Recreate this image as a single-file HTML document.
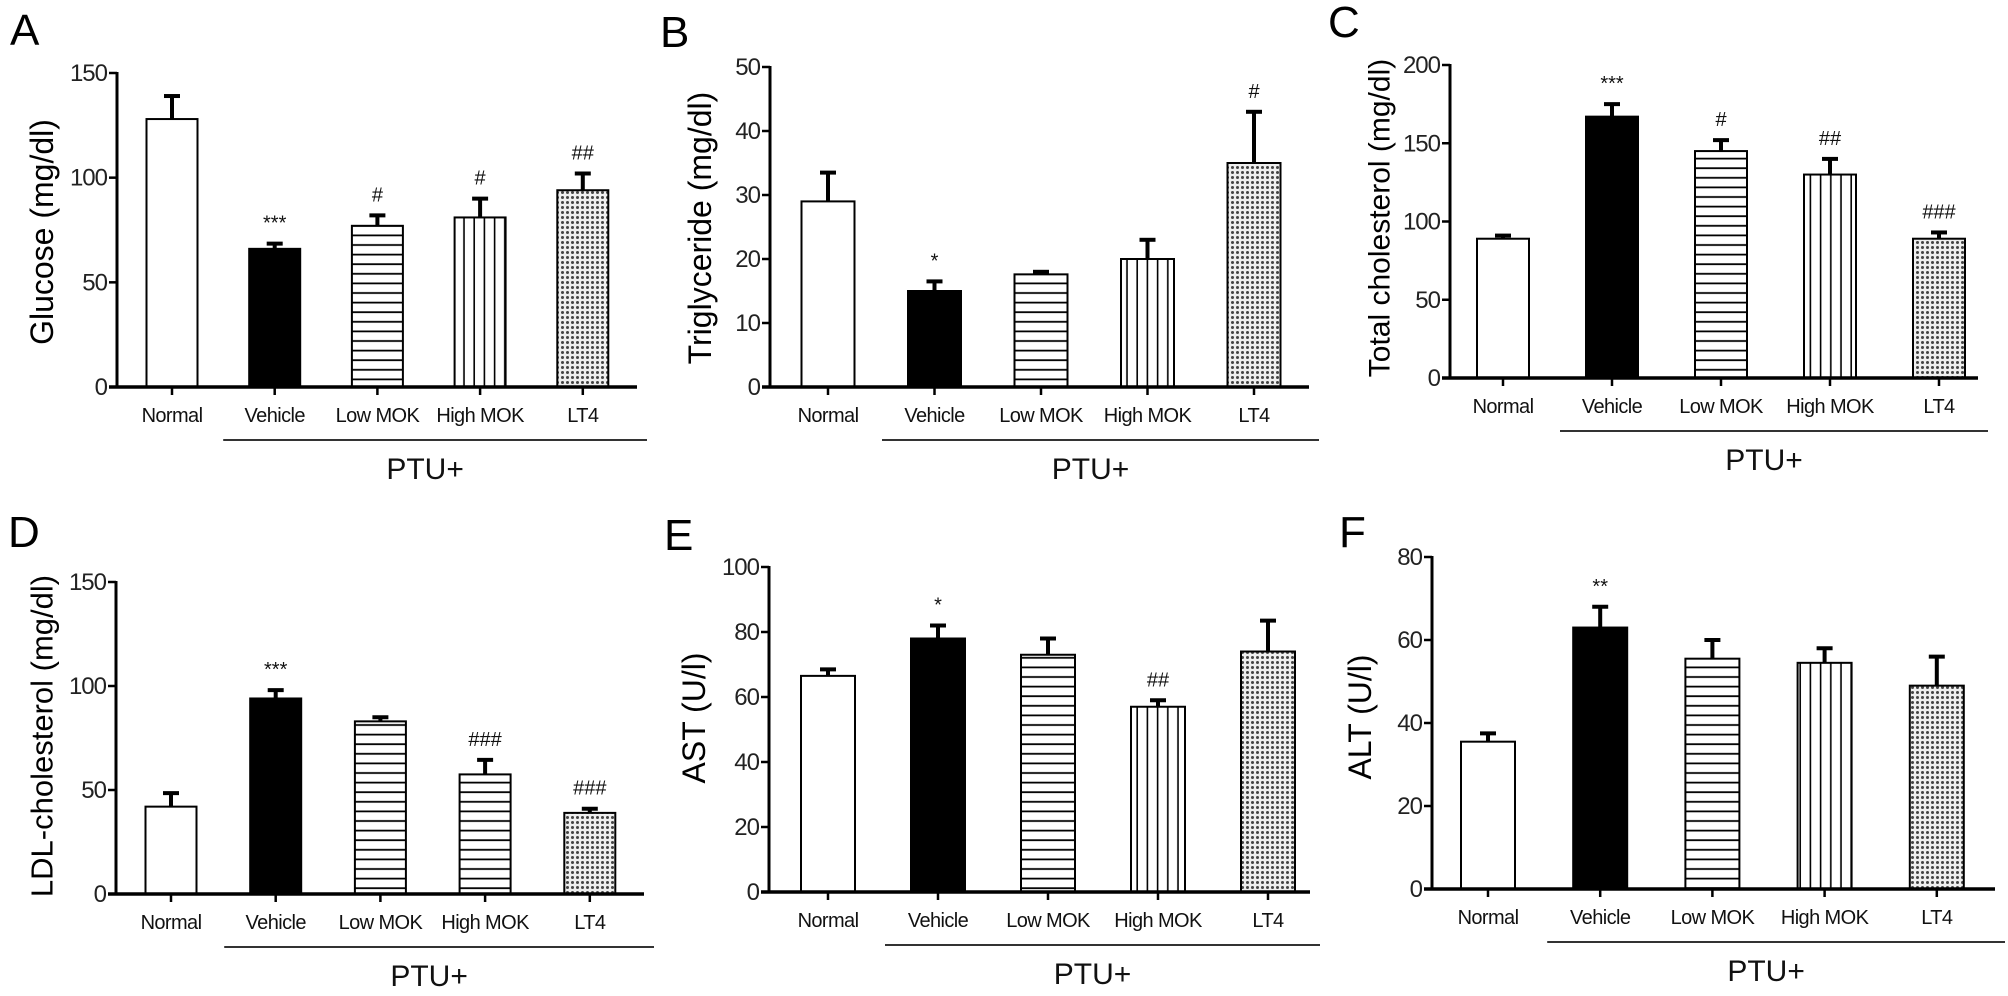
<!DOCTYPE html>
<html><head><meta charset="utf-8"><style>
html,body{margin:0;padding:0;background:#fff;}
svg{display:block;font-family:"Liberation Sans",Arial,sans-serif;}
</style></head><body>
<svg id="fig" width="2008" height="996" viewBox="0 0 2008 996" xmlns="http://www.w3.org/2000/svg">
<defs>
<pattern id="pH" patternUnits="userSpaceOnUse" width="10" height="9.6"><rect width="10" height="9.6" fill="#fff"/><line x1="0" y1="5" x2="10" y2="5" stroke="#000" stroke-width="1.8"/></pattern>
<pattern id="pV" patternUnits="userSpaceOnUse" width="10.2" height="10"><rect width="10.2" height="10" fill="#fff"/><line x1="5" y1="0" x2="5" y2="10" stroke="#000" stroke-width="1.6"/></pattern>
<pattern id="pD" patternUnits="userSpaceOnUse" width="5" height="5"><rect width="5" height="5" fill="#eee"/><circle cx="2.5" cy="2.5" r="1.5" fill="#444"/></pattern>
</defs>
</svg>
<script>
// Shared categories
const categories = ["Normal","Vehicle","Low MOK","High MOK","LT4"];
// Panel A - Glucose
const glucoseMeans = [128, 66, 77, 81, 94];
const glucoseErr = [139, 68.5, 82, 90, 102];
const glucoseMarks = ["", "***", "#", "#", "##"];
const glucoseTicks = [0, 50, 100, 150];
// Panel B - Triglyceride
const trigMeans = [29, 15, 17.6, 20, 35];
const trigErr = [33.5, 16.5, 18, 23, 43];
const trigMarks = ["", "*", "", "", "#"];
const trigTicks = [0, 10, 20, 30, 40, 50];
// Panel C - Total cholesterol
const tcMeans = [89, 167, 145, 130, 89];
const tcErr = [91, 175, 152, 140, 93];
const tcMarks = ["", "***", "#", "##", "###"];
const tcTicks = [0, 50, 100, 150, 200];
// Panel D - LDL
const ldlMeans = [42, 94, 83, 57.5, 39];
const ldlErr = [48.5, 98, 85, 64.5, 41];
const ldlMarks = ["", "***", "", "###", "###"];
const ldlTicks = [0, 50, 100, 150];
// Panel E - AST
const astMeans = [66.5, 78, 73, 57, 74];
const astErr = [68.5, 82, 78, 59, 83.5];
const astMarks = ["", "*", "", "##", ""];
const astTicks = [0, 20, 40, 60, 80, 100];
// Panel F - ALT
const altMeans = [35.5, 63, 55.5, 54.5, 49];
const altErr = [37.5, 68, 60, 58, 56];
const altMarks = ["", "**", "", "", ""];
const altTicks = [0, 20, 40, 60, 80];

const NS = "http://www.w3.org/2000/svg";
const svg = document.getElementById("fig");
function mk(tag, attrs, parent, text){
  const e = document.createElementNS(NS, tag);
  for (const k in attrs) e.setAttribute(k, attrs[k]);
  if (text !== undefined) e.textContent = text;
  (parent||svg).appendChild(e);
  return e;
}

const panels = [
 {id:"a", letter:"A", lx:10, ly:45, title:"Glucose (mg/dl)", tx:42, ty:232, tsize:32,
  ax:117, y0:387, yTop:73, max:150, xEnd:637, c0:172, pitch:102.7, bw:51,
  means:glucoseMeans, err:glucoseErr, marks:glucoseMarks, ticks:glucoseTicks,
  fills:["#fff","#000","url(#pH)","url(#pV)","url(#pD)"]},
 {id:"b", letter:"B", lx:660, ly:47, title:"Triglyceride (mg/dl)", tx:700, ty:228, tsize:32,
  ax:770, y0:387, yTop:67, max:50, xEnd:1309, c0:828, pitch:106.5, bw:53,
  means:trigMeans, err:trigErr, marks:trigMarks, ticks:trigTicks,
  fills:["#fff","#000","url(#pH)","url(#pV)","url(#pD)"]},
 {id:"c", letter:"C", lx:1328, ly:37, title:"Total cholesterol (mg/dl)", tx:1380, ty:218, tsize:30,
  ax:1450, y0:378, yTop:65, max:200, xEnd:1978, c0:1503, pitch:109, bw:52,
  means:tcMeans, err:tcErr, marks:tcMarks, ticks:tcTicks,
  fills:["#fff","#000","url(#pH)","url(#pV)","url(#pD)"]},
 {id:"d", letter:"D", lx:8, ly:547, title:"LDL-cholesterol (mg/dl)", tx:42, ty:736, tsize:31,
  ax:116, y0:894, yTop:582, max:150, xEnd:644, c0:171, pitch:104.7, bw:51,
  means:ldlMeans, err:ldlErr, marks:ldlMarks, ticks:ldlTicks,
  fills:["#fff","#000","url(#pH)","url(#pH)","url(#pD)"]},
 {id:"e", letter:"E", lx:664, ly:550, title:"AST (U/l)", tx:694, ty:718, tsize:32,
  ax:769, y0:892, yTop:567, max:100, xEnd:1310, c0:828, pitch:110, bw:54,
  means:astMeans, err:astErr, marks:astMarks, ticks:astTicks,
  fills:["#fff","#000","url(#pH)","url(#pV)","url(#pD)"]},
 {id:"f", letter:"F", lx:1339, ly:547, title:"ALT (U/l)", tx:1360, ty:717, tsize:32,
  ax:1432, y0:889, yTop:557, max:80, xEnd:1995, c0:1488, pitch:112.2, bw:54,
  means:altMeans, err:altErr, marks:altMarks, ticks:altTicks,
  fills:["#fff","#000","url(#pH)","url(#pV)","url(#pD)"]}
];

panels.forEach(p => {
  const g = mk("g", {});
  
  
  const yS = v => p.y0 - (v / p.max) * (p.y0 - p.yTop);
  const xS = i => p.c0 + i * p.pitch;

  const L = mk("text", {x:p.lx, y:p.ly, "font-size":44, fill:"#000"}, g, p.letter);
  
  

  const T = mk("text", {x:p.tx, y:p.ty, "font-size":p.tsize, "text-anchor":"middle", "dominant-baseline":"central", transform:`rotate(-90 ${p.tx} ${p.ty})`}, g, p.title);
  
  

  p.means.forEach((v, i) => {
    const cx = xS(i), top = yS(v), et = yS(p.err[i]);
    const eb = mk("line", {x1:cx, y1:top, x2:cx, y2:et, stroke:"#000", "stroke-width":4}, g);
    
    
    const cap = mk("line", {x1:cx-8, y1:et, x2:cx+8, y2:et, stroke:"#000", "stroke-width":4}, g);
    
    
    const r = mk("rect", {x:cx-p.bw/2, y:top, width:p.bw, height:p.y0-top, fill:p.fills[i], stroke:"#000", "stroke-width":2}, g);
    
    
    if (p.marks[i]) {
      const m = mk("text", {x:cx, y:et-14, "font-size":20, "text-anchor":"middle", fill:"#111"}, g, p.marks[i]);
      
      
    }
    const xt = mk("line", {x1:cx, y1:p.y0, x2:cx, y2:p.y0+8, stroke:"#000", "stroke-width":2.5}, g);
    
    
    const cl = mk("text", {x:cx, y:p.y0+35, "font-size":20, "text-anchor":"middle", fill:"#111", "letter-spacing":"-0.6"}, g, categories[i]);
    
    
  });

  const ya = mk("line", {x1:p.ax, y1:p.yTop-1, x2:p.ax, y2:p.y0+1.5, stroke:"#000", "stroke-width":3}, g);
  
  
  const xa = mk("line", {x1:p.ax-8, y1:p.y0, x2:p.xEnd, y2:p.y0, stroke:"#000", "stroke-width":3.5}, g);
  
  
  p.ticks.forEach(t => {
    const y = yS(t);
    const tk = mk("line", {x1:p.ax-8, y1:y, x2:p.ax, y2:y, stroke:"#000", "stroke-width":2.5}, g);
    
    
    const tl = mk("text", {x:p.ax-10, y:y+8, "font-size":24, "text-anchor":"end", fill:"#222", "letter-spacing":"-1"}, g, String(t));
    
    
  });

  const lx1 = xS(1) - p.bw/2 - 26, lx2 = p.xEnd + 10;
  const gl = mk("line", {x1:lx1, y1:p.y0+53, x2:lx2, y2:p.y0+53, stroke:"#333", "stroke-width":2}, g);
  
  
  const pt = mk("text", {x:(lx1+lx2)/2 - 10, y:p.y0+92, "font-size":30, "text-anchor":"middle", fill:"#111"}, g, "PTU+");
  
  
});
</script>
</body></html>
